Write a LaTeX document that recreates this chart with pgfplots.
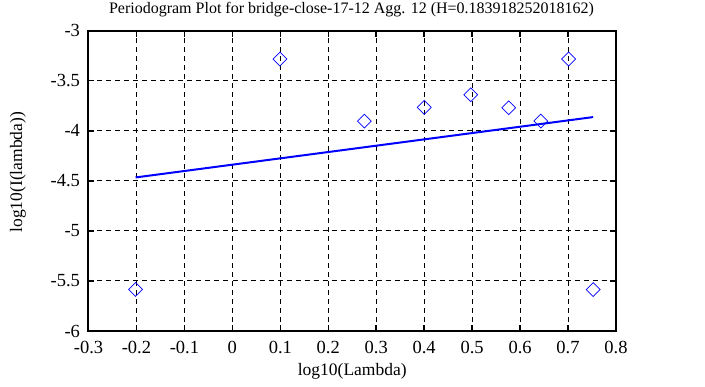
\documentclass[border=0pt]{standalone}
\usepackage{pgfplots}
\pgfplotsset{compat=1.18}
\usepackage{fontspec}
\setmainfont{Liberation Serif}
\begin{document}
\begin{tikzpicture}[x=1pt,y=1pt]
\useasboundingbox (0,0) rectangle (705,387);
\begin{axis}[
  at={(88.5pt,56pt)}, anchor=south west,
  scale only axis, width=527.5pt, height=300.3pt,
  xmin=-0.3, xmax=0.8, ymin=-6, ymax=-3,
  xtick={-0.3,-0.2,...,0.8}, ytick={-6,-5.5,...,-3},
  xticklabels={-0.3,-0.2,-0.1,0,0.1,0.2,0.3,0.4,0.5,0.6,0.7,0.8},
  yticklabels={-6,-5.5,-5,-4.5,-4,-3.5,-3},
  /pgf/number format/assume math mode=true,
  tick label style={font=\fontsize{18.5}{20}\selectfont},
  xticklabel style={yshift=-6.5pt},
  yticklabel style={xshift=-5pt},
  tick align=inside, major tick length=6pt,
  tick style={black, line width=1.5pt},
  axis line style={line width=2pt},
  grid=major,
  major grid style={black, line width=1pt, dash pattern=on 5pt off 4pt},
  xlabel={log10(Lambda)},
  xlabel style={at={(axis description cs:0.5,-0.133)}, anchor=center, font=\fontsize{17.5}{19}\selectfont},
  ylabel={log10(I(lambda))},
  ylabel style={at={(axis description cs:-0.1336,0.529)}, anchor=center, rotate=0, font=\fontsize{17.5}{19}\selectfont},
  clip=false,
]
\addplot[only marks, blue, mark=square, mark size=4.9pt, mark options={rotate=45, line width=0.7pt}] coordinates {
(-0.2018,-5.585) (0.0992,-3.283) (0.2753,-3.903) (0.4002,-3.766) (0.4971,-3.640)
(0.5763,-3.770) (0.6432,-3.903) (0.7012,-3.283) (0.7524,-5.586)
};
\addplot[blue, line width=2pt] coordinates {(-0.2018,-4.466) (0.7524,-3.863)};
\end{axis}
\node[anchor=base, inner sep=0pt, font=\fontsize{16}{18}\selectfont] at (351.5,373.5) {Periodogram Plot for bridge-close-17-12 Agg. 12 (H=0.183918252018162)};
\end{tikzpicture}
\end{document}
